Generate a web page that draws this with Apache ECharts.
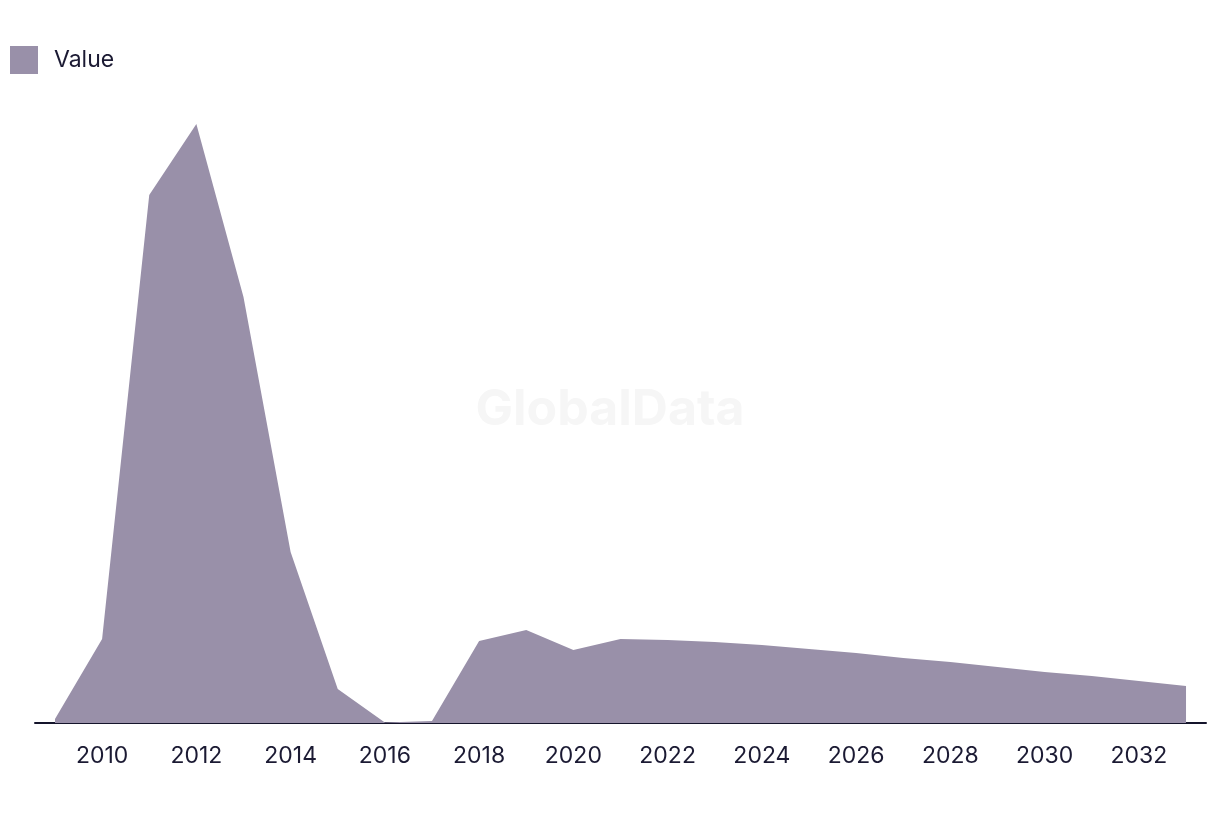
<!DOCTYPE html>
<html>
<head>
<meta charset="utf-8">
<script src="https://cdn.jsdelivr.net/npm/echarts@6/dist/echarts.min.js"></script>
<style>
html,body{margin:0;padding:0;background:#fff;}
#chart{width:1220px;height:814px;}
</style>
</head>
<body>
<div id="chart"></div>
<script>
const years = [2009,2010,2011,2012,2013,2014,2015,2016,2017,2018,2019,2020,2021,2022,2023,2024,2025,2026,2027,2028,2029,2030,2031,2032,2033];
const values = [4,84,528,599,426,171,34,0.5,2,82,93,73,84,83,81,78,74,70,65,61,56,51,47,42,37];
const tickYears = [2010,2012,2014,2016,2018,2020,2022,2024,2026,2028,2030,2032];
const seriesName = 'Value';

const chart = echarts.init(document.getElementById('chart'));
chart.setOption({
  animation: false,
  backgroundColor: '#ffffff',
  textStyle: { fontFamily: 'Inter' },
  graphic: [{
    type: 'text',
    left: 'center',
    top: 385,
    z: -1,
    style: { text: 'GlobalData', fontSize: 50, fontWeight: 'bold', fontFamily: 'Inter', fill: '#f6f6f6' }
  }],
  legend: {
    left: 5, top: 41,
    itemWidth: 28, itemHeight: 28,
    itemGap: 20,
    icon: 'rect',
    textStyle: { fontSize: 23, color: '#1b1a33', fontFamily: 'Inter', padding: [0,0,0,11] },
    data: [seriesName]
  },
  grid: { left: 35, right: 14, top: 73, bottom: 91, containLabel: false },
  xAxis: {
    type: 'value',
    min: 2008.576, max: 2033.424,
    splitLine: { show: false },
    axisTick: { show: false },
    axisLine: { show: true, lineStyle: { color: '#14142b', width: 2 } },
    axisLabel: {
      customValues: tickYears,
      formatter: v => String(v),
      fontSize: 23, color: '#1b1a33', margin: 22, fontFamily: 'Inter'
    }
  },
  yAxis: {
    type: 'value', min: 0, max: 650,
    show: false,
    splitLine: { show: false }
  },
  series: [{
    name: seriesName,
    type: 'line',
    data: years.map((y, i) => [y, values[i]]),
    showSymbol: false,
    symbol: 'none',
    lineStyle: { width: 0 },
    itemStyle: { color: '#9990a9' },
    areaStyle: { color: '#9990a9', opacity: 1 },
    z: 2
  }]
});
</script>
</body>
</html>
